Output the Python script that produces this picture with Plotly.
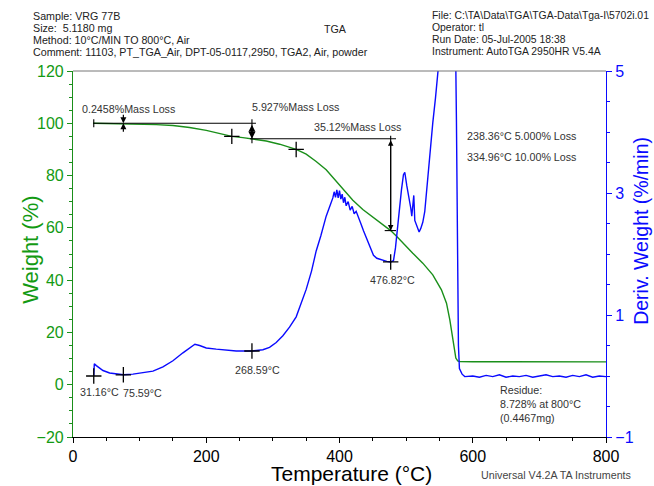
import plotly.graph_objects as go

# ---------------- data ----------------
temp_tga = [30, 50, 75.6, 100, 125, 150, 175, 200, 225, 238.36, 255, 268.59, 290, 310,
            334.96, 350, 365, 380, 395, 405, 420, 435, 455, 476.82, 486, 498, 510, 525,
            540, 553, 560.6, 565.6, 570.6, 574.6, 577.5, 580.6, 600, 700, 800]
weight = [100.0, 99.95, 99.75, 99.68, 99.5, 99.15, 98.4, 97.3, 95.9, 95.0, 94.5, 94.07,
          93.2, 92.0, 90.0, 88.2, 85.4, 82.2, 78.0, 74.8, 70.6, 67.0, 63.0, 58.95, 56.7,
          53.4, 50.3, 46.5, 42.0, 36.3, 31.2, 24.8, 15.9, 10.2, 9.1, 8.85, 8.78, 8.75, 8.728]

temp_dtg = [31.16, 32, 35, 38, 45, 55, 65, 75.59, 90, 105, 120, 135, 150, 165, 177, 183,
            190, 200, 215, 230, 245, 268.59, 285, 295, 305, 315, 325, 335, 342, 350, 358,
            365, 372, 380, 386, 390, 392, 394, 396, 398, 400, 402, 404, 406, 408, 410, 413,
            416, 419, 422, 425, 428, 432, 436, 441, 446, 451, 456, 461, 466, 471, 476.82,
            481, 484, 487, 490, 493, 496, 498, 501, 504, 507, 508.5, 510, 511.5, 513, 515,
            517, 519.5, 522, 525, 528, 531, 535, 540, 544, 548, 552, 558, 565, 570, 574,
            575.5, 577, 578.5, 580, 584, 588, 600, 610, 620, 630, 640, 650, 660, 670, 680,
            690, 700, 710, 720, 730, 740, 750, 760, 770, 780, 790, 800]
deriv = [0.0, 0.20, 0.17, 0.15, 0.09, 0.05, 0.03, 0.02, 0.03, 0.05, 0.08, 0.15, 0.25,
         0.38, 0.48, 0.52, 0.50, 0.46, 0.44, 0.42, 0.41, 0.41, 0.43, 0.47, 0.55, 0.66,
         0.80, 0.97, 1.18, 1.42, 1.72, 2.05, 2.30, 2.62, 2.80, 2.92, 3.02, 2.93, 3.05,
         2.92, 3.04, 2.90, 2.98, 2.84, 2.93, 2.79, 2.86, 2.72, 2.78, 2.66, 2.70, 2.60,
         2.50, 2.38, 2.24, 2.10, 1.98, 1.93, 1.91, 1.90, 1.88, 1.87, 1.89, 2.10, 2.45,
         2.80, 3.05, 3.30, 3.34, 3.12, 2.95, 2.75, 2.62, 2.85, 2.96, 2.55, 2.50, 2.42,
         2.36, 2.42, 2.52, 2.70, 3.10, 3.60, 4.15, 4.55, 5.00, 5.60, 6.50, 7.00, 6.50,
         5.60, 4.20, 2.20, 0.50, 0.12, 0.03, -0.01, 0.00, -0.02, 0.01, -0.01, 0.02, -0.02,
         0.00, -0.01, 0.01, -0.02, 0.00, 0.02, -0.01, 0.00, -0.02, 0.01, -0.01, 0.02,
         -0.02, 0.00, -0.01]

dtg_mark_temps = [31.16, 75.59, 268.59, 476.82]
dtg_mark_vals = [0.0, 0.02, 0.41, 1.87]
dtg_mark_labels = ["31.16°C", "75.59°C", "268.59°C", "476.82°C"]

loss_temps = [238.36, 334.96]
loss_pcts = [5.0, 10.0]

mass_losses = [0.2458, 5.927, 35.12]
step_temps = [31.16, 75.59, 268.59, 476.82]
residue_pct = 8.728
residue_mg = 0.4467
final_temp = 800

header_left = ["Sample: VRG 77B", "Size:  5.1180 mg", "Method: 10°C/MIN TO 800°C, Air",
               "Comment: 11103, PT_TGA_Air, DPT-05-0117,2950, TGA2, Air, powder"]
header_right = ["File: C:\\TA\\Data\\TGA\\TGA-Data\\Tga-I\\5702i.01", "Operator: tl",
                "Run Date: 05-Jul-2005 18:38", "Instrument: AutoTGA 2950HR V5.4A"]

GREEN = "#1a8f1a"
GREEN_T = "#139a13"
BLUE = "#0a0aff"
TXT = "#333333"
FONT = "Liberation Sans, Arial, sans-serif"
SMALL = 10.7

# plot area in window pixels
L, R, T, B = 73.3, 606.3, 71.0, 436.7


def px(xp, yp):
    return (xp - L) / (R - L), (B - yp) / (B - T)


fig = go.Figure()

fig.add_trace(go.Scatter(x=temp_tga, y=weight, mode="lines",
                         line=dict(color=GREEN, width=1.4), yaxis="y"))
fig.add_trace(go.Scatter(x=temp_dtg, y=deriv, mode="lines",
                         line=dict(color=BLUE, width=1.4), yaxis="y2"))

mk = dict(symbol="cross-thin-open", size=11, color="black",
          line=dict(color="black", width=1.3))
fig.add_trace(go.Scatter(x=dtg_mark_temps, y=dtg_mark_vals, mode="markers", yaxis="y2",
                         marker=mk, cliponaxis=False))
fig.add_trace(go.Scatter(x=loss_temps, y=[100 - p for p in loss_pcts], mode="markers",
                         marker=mk))

# measurement lines
w1 = 100.0
w2 = w1 - mass_losses[1]
w3 = w2 - mass_losses[2]
seg_x, seg_y = [], []


def seg(x0, y0, x1, y1):
    seg_x.extend([x0, x1, None])
    seg_y.extend([y0, y1, None])


seg(step_temps[0], w1, step_temps[2] + 6, w1)
seg(step_temps[0], w1 - 1.5, step_temps[0], w1 + 1.5)
seg(step_temps[2], w1 + 1.5, step_temps[2], w2 - 1.7)
seg(step_temps[2] - 3, w2, step_temps[3] + 8, w2)
seg(step_temps[3], w2 + 1.2, step_temps[3], w3)
seg(step_temps[3] - 9, w3, step_temps[3] + 8, w3)
fig.add_trace(go.Scatter(x=seg_x, y=seg_y, mode="lines",
                         line=dict(color="black", width=1.1)))

ann = []
for ay in (-10, 10):
    ann.append(dict(x=step_temps[1], y=w1, xref="x", yref="y", ax=0, ay=ay,
                    showarrow=True, arrowhead=2, arrowsize=1, arrowwidth=1.2,
                    arrowcolor="black", text=""))
ann.append(dict(x=step_temps[2], y=w2, ax=step_temps[2], ay=w1, xref="x", yref="y",
                axref="x", ayref="y", showarrow=True, arrowhead=2, arrowside="end+start",
                arrowsize=1, arrowwidth=1.4, arrowcolor="black", text=""))
ann.append(dict(x=step_temps[3], y=w3, ax=step_temps[3], ay=w2, xref="x", yref="y",
                axref="x", ayref="y", showarrow=True, arrowhead=2, arrowside="end+start",
                arrowsize=1, arrowwidth=1.1, arrowcolor="black", text=""))

tfont = dict(family=FONT, size=SMALL, color=TXT)


def dtext(x, y, s, xanchor="left", yanchor="middle", **kw):
    ann.append(dict(x=x, y=y, xref="x", yref="y", text=s, showarrow=False,
                    xanchor=xanchor, yanchor=yanchor, font=tfont, **kw))


dtext(10, 105.4, f"{mass_losses[0]}%Mass Loss")
dtext(266, 106.4, f"{mass_losses[1]}%Mass Loss")
dtext(359, 98.4, f"{mass_losses[2]}%Mass Loss")
dtext(589, 95.2, f"{loss_temps[0]:.2f}°C {loss_pcts[0]:.3f}% Loss")
dtext(589, 87.0, f"{loss_temps[1]:.2f}°C {loss_pcts[1]:.2f}% Loss")
dtext(7, -2.6, dtg_mark_labels[0])
dtext(72, -3.3, dtg_mark_labels[1])
dtext(240, 5.6, dtg_mark_labels[2])
dtext(443, 40.0, dtg_mark_labels[3])
dtext(638, 1.2, f"Residue:<br>{residue_pct}% at {final_temp}°C<br>({residue_mg}mg)",
      yanchor="top", align="left")


def ptext(xp, yp, s, font, xanchor="left", **kw):
    x, y = px(xp, yp)
    ann.append(dict(x=x, y=y, xref="paper", yref="paper", text=s, showarrow=False,
                    xanchor=xanchor, yanchor="middle", font=font, **kw))


hfont = dict(family=FONT, size=SMALL, color="#222222")
hfont_r = dict(family=FONT, size=10.4, color="#222222")
for i, s in enumerate(header_left):
    ptext(31, 16 + 12 * i, s, hfont)
for i, s in enumerate(header_right):
    ptext(430, 16 + 12 * i, s, hfont_r)
ptext(336, 29, "TGA", hfont, xanchor="center")
ptext(479, 475, "Universal V4.2A TA Instruments",
      dict(family=FONT, size=SMALL, color="#444444"))

ptext(30, 250, "Weight (%)", dict(family=FONT, size=22, color=GREEN_T),
      xanchor="center", textangle=-90)
ptext(641, 231, "Deriv. Weight (%/min)", dict(family=FONT, size=19.5, color=BLUE),
      xanchor="center", textangle=-90)
ptext(352, 473.5, "Temperature (°C)", dict(family=FONT, size=21, color="black"),
      xanchor="center")

fig.update_layout(
    width=654, height=486,
    margin=dict(l=73, r=48, t=71, b=49),
    plot_bgcolor="white", paper_bgcolor="white", showlegend=False,
    font=dict(family=FONT),
    annotations=ann,
    xaxis=dict(range=[0, 800], tick0=0, dtick=200, ticks="outside", ticklen=5,
               tickcolor="black", showline=True, linecolor="black", linewidth=1,
               showgrid=False, zeroline=False,
               tickfont=dict(family=FONT, size=16, color="black"),
               minor=dict(dtick=50, ticks="outside", ticklen=3, tickcolor="black")),
    yaxis=dict(range=[-20, 120], tick0=-20, dtick=20, ticks="outside", ticklen=5,
               tickcolor=GREEN, showline=True, linecolor=GREEN, linewidth=1.2,
               showgrid=False, zeroline=False,
               tickfont=dict(family=FONT, size=16, color=GREEN_T),
               minor=dict(dtick=5, ticks="outside", ticklen=3, tickcolor=GREEN)),
    yaxis2=dict(range=[-1, 5], tick0=-1, dtick=2, overlaying="y", side="right",
                ticks="outside", ticklen=5, tickcolor=BLUE, showline=True,
                linecolor=BLUE, linewidth=1.2, showgrid=False, zeroline=False,
                tickfont=dict(family=FONT, size=16, color=BLUE),
                minor=dict(dtick=0.5, ticks="outside", ticklen=3, tickcolor=BLUE)),
    shapes=[dict(type="line", xref="paper", yref="paper", x0=0, x1=1, y0=1, y1=1,
                 line=dict(color="#777777", width=1))],
)

fig.write_html("out.html",
               config={"displayModeBar": False},
               post_script="document.body.style.margin='0';"
                           "document.body.style.overflow='hidden';")
